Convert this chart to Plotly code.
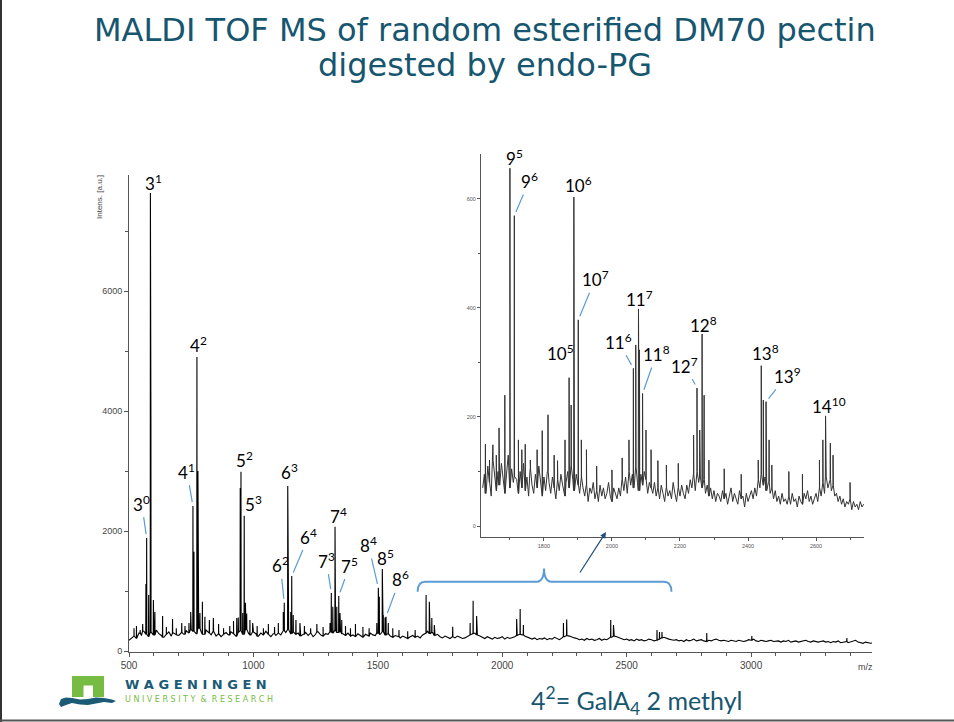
import plotly.graph_objects as go

W, H = 954, 722

# ---------------- data ----------------
main_base_start = 500
main_base_step = 10
main_baseline = [
    180, 220, 250, 210, 300, 260, 330, 280, 240, 310, 270, 350, 290, 260, 230, 280, 320, 250, 300, 270,
    260, 310, 280, 340, 300, 360, 330, 290, 380, 320, 280, 350, 300, 270, 330, 250, 290, 240, 280, 310,
    270, 320, 290, 250, 310, 340, 280, 360, 300, 270, 320, 290, 250, 300, 270, 330, 280, 240, 290, 260,
    300, 270, 340, 310, 360, 290, 320, 280, 300, 250, 280, 310, 260, 300, 240, 280, 320, 270, 250, 290,
    280, 320, 300, 350, 310, 330, 290, 260, 300, 250, 270, 240, 290, 260, 230, 280, 250, 300, 270, 260,
    300, 280, 320, 270, 290, 250, 230, 260, 240, 220, 250, 230, 210, 240, 260, 230, 250, 220, 270, 300,
    330, 290, 310, 260, 280, 240, 220, 250, 230, 210, 240, 220, 250, 230, 210, 220, 240, 270, 290, 300,
    270, 250, 230, 210, 240, 220, 200, 230, 210, 220, 240, 200, 230, 210, 220, 240, 260, 280, 270, 250,
    230, 210, 200, 220, 190, 210, 200, 220, 190, 210, 200, 230, 210, 190, 220, 240, 260, 250, 230, 220,
    210, 190, 200, 180, 210, 190, 200, 180, 190, 210, 180, 200, 190, 210, 230, 250, 240, 220, 200, 190,
    200, 180, 190, 170, 200, 180, 190, 170, 180, 200, 190, 170, 180, 200, 220, 230, 210, 200, 190, 180,
    190, 170, 180, 160, 190, 170, 180, 200, 170, 180, 190, 170, 160, 180, 170, 190, 200, 180, 170, 180,
    170, 160, 180, 170, 160, 180, 170, 160, 170, 190, 180, 200, 170, 160, 180, 170, 160, 170, 180, 160,
    160, 170, 150, 170, 160, 180, 150, 160, 170, 150, 160, 170, 180, 160, 150, 170, 160, 150, 160, 170,
    150, 160, 140, 160, 150, 170, 140, 150, 160, 140, 150, 160, 180, 150, 140, 130, 150, 140, 130, 140,
]

main_peak_mz = [571, 586, 757, 773, 950, 963, 1124, 1138, 1154, 1313, 1328, 1343, 1502, 1518, 1533]
main_peak_int = [1883, 7633, 2417, 4900, 2990, 2256, 806, 2750, 1250, 967, 2072, 917, 1056, 1367, 572]
main_peak_labels = ["3<sup>0</sup>", "3<sup>1</sup>", "4<sup>1</sup>", "4<sup>2</sup>", "5<sup>2</sup>",
                    "5<sup>3</sup>", "6<sup>2</sup>", "6<sup>3</sup>", "6<sup>4</sup>", "7<sup>3</sup>",
                    "7<sup>4</sup>", "7<sup>5</sup>", "8<sup>4</sup>", "8<sup>5</sup>", "8<sup>6</sup>"]

main_minor_mz = [520, 530, 545, 555, 568, 579, 588, 598, 604, 635, 650, 675, 690, 712, 725,
                 741, 748, 761, 777, 785, 795, 805, 823, 839, 860, 880, 905, 920,
                 933, 939, 947, 957, 968, 973, 986, 997, 1015, 1040, 1060, 1085,
                 1100, 1120, 1141, 1150, 1160, 1171, 1187, 1205, 1230, 1255, 1280,
                 1308, 1319, 1335, 1348, 1355, 1370, 1390, 1410, 1440, 1465,
                 1496, 1506, 1522, 1529, 1542, 1560, 1585, 1620, 1650,
                 1694, 1707, 1717, 1727, 1801, 1871, 1883, 1897,
                 2058, 2072, 2085, 2246, 2259, 2436, 2447,
                 2622, 2632, 2642, 2822, 3003, 3385]
main_minor_int = [380, 420, 350, 450, 1117, 933, 3917, 850, 650, 583, 400, 533, 380, 467, 420,
                  467, 650, 1655, 3000, 633, 822, 572, 517, 550, 450, 380, 420, 500,
                  550, 561, 2717, 633, 806, 628, 517, 467, 420, 380, 450, 400,
                  467, 650, 1983, 650, 600, 517, 467, 420, 380, 450, 400,
                  467, 739, 739, 633, 517, 420, 380, 450, 400, 380,
                  467, 906, 600, 560, 467, 380, 350, 330, 350,
                  933, 822, 550, 433, 406, 467, 839, 583,
                  533, 700, 433, 467, 528, 517, 433,
                  350, 320, 317, 300, 250, 216]

inset_base_start = 1620
inset_base_step = 5
inset_baseline = [
    70, 95, 60, 110, 80, 55, 120, 90, 65, 100, 75, 115, 85, 60, 95, 130, 70, 105, 80, 90,
    85, 60, 100, 70, 115, 65, 90, 55, 105, 75, 60, 95, 70, 110, 80, 55, 90, 65, 100, 80,
    60, 90, 70, 50, 85, 65, 95, 75, 55, 80, 100, 70, 110, 85, 65, 95, 75, 60, 90, 70,
    55, 75, 45, 70, 60, 80, 50, 65, 45, 75, 55, 70, 50, 60, 80, 55, 45, 70, 60, 50,
    70, 55, 85, 65, 90, 60, 100, 75, 95, 70, 110, 80, 65, 95, 75, 100, 85, 60, 80, 70,
    60, 80, 55, 70, 50, 75, 60, 45, 70, 55, 65, 50, 80, 60, 45, 70, 55, 75, 60, 50,
    75, 60, 85, 70, 95, 65, 100, 80, 90, 70, 85, 60, 75, 55, 70, 50, 65, 45, 60, 55,
    45, 65, 50, 60, 40, 55, 70, 45, 60, 50, 40, 65, 50, 55, 35, 60, 45, 55, 65, 50,
    70, 55, 85, 70, 95, 75, 90, 65, 80, 60, 70, 50, 65, 45, 55, 40, 60, 45, 50, 40,
    55, 40, 60, 45, 50, 35, 55, 45, 40, 60, 50, 65, 45, 55, 40, 50, 60, 45, 70, 55,
    80, 60, 90, 70, 85, 65, 75, 55, 60, 45, 55, 40, 50, 35, 45, 40, 50, 30, 45, 35,
    40, 30, 45, 35, 40,
]

inset_peak_mz = [1700, 1713, 1874, 1888, 1901, 2063, 2078, 2090, 2250, 2265, 2439, 2453, 2628]
inset_peak_int = [656, 569, 272, 603, 378, 289, 398, 243, 253, 352, 294, 228, 202]
inset_peak_labels = ["9<sup>5</sup>", "9<sup>6</sup>", "10<sup>5</sup>", "10<sup>6</sup>", "10<sup>7</sup>",
                     "11<sup>6</sup>", "11<sup>7</sup>", "11<sup>8</sup>", "12<sup>7</sup>", "12<sup>8</sup>",
                     "13<sup>8</sup>", "13<sup>9</sup>", "14<sup>10</sup>"]

inset_minor_mz = [1628, 1640, 1650, 1660, 1668, 1685, 1725, 1735, 1745, 1760, 1780, 1795,
                  1812, 1830, 1840, 1862, 1880, 1910, 1925, 1955, 2000, 2030, 2050, 2070,
                  2081, 2100, 2115, 2135, 2160, 2195, 2240, 2258, 2271, 2285, 2330, 2380,
                  2430, 2445, 2462, 2470, 2520, 2560, 2610, 2620, 2642, 2650, 2700]
inset_minor_int = [150, 121, 149, 130, 180, 240, 158, 140, 150, 121, 140, 175,
                   204, 130, 120, 158, 222, 158, 140, 110, 103, 125, 158, 332,
                   323, 176, 140, 120, 112, 115, 167, 176, 240, 121, 105, 95,
                   121, 231, 158, 112, 100, 95, 121, 158, 152, 130, 80]

main_x_ticks = [500, 1000, 1500, 2000, 2500, 3000]
main_y_ticks = [0, 2000, 4000, 6000]
inset_x_ticks = [1800, 2000, 2200, 2400, 2600]
inset_y_ticks = [0, 200, 400, 600]

# ---------------- styling / layout constants ----------------
TEAL = "#17566F"
BLUE = "#5B9BD5"
GREEN = "#76BC43"
LABEL_FONT = dict(family="Lato", size=17, color="black")

# label placement: ("above", xshift, yshift) or ("leader", ax, ay)
main_label_pos = [("leader", -5, -35), ("above", 3, 11), ("leader", -6, -35), ("above", 2, 13),
                  ("above", 4, 12), ("above", 9, 12), ("leader", -4, -38), ("above", 2, 15),
                  ("leader", 17, -40), ("leader", -5, -33), ("above", 3, 11), ("leader", 11, -31),
                  ("leader", -10, -43), ("above", 3, 12), ("leader", 14, -38)]
inset_label_pos = [("above", 5, 11), ("leader", 15, -35), ("above", -9, 25), ("above", 5, 13),
                   ("leader", 17, -41), ("leader", -15, -27), ("above", 1, 10), ("leader", 14, -40),
                   ("leader", -12, -23), ("above", 1, 10), ("above", 4, 13), ("leader", 21, -26),
                   ("above", 3, 10)]

MAIN_X_RANGE = [500, 3486]
MAIN_Y_RANGE = [-15, 7935]
INSET_X_RANGE = [1615, 2741]
INSET_Y_RANGE = [-20, 682]
BRACKET = [1660, 2168, 2680]   # m/z of left end, cusp, right end


def px(x):
    return x / W


def py(y):
    return 1 - y / H


def build_line(start, step, base, pk_mz, pk_int):
    pts = [(start + i * step, v) for i, v in enumerate(base)]
    for mz, h in zip(pk_mz, pk_int):
        idx = min(max(int(round((mz - start) / step)), 0), len(base) - 1)
        b = base[idx]
        pts += [(mz - 0.6, b), (mz, h), (mz + 0.6, b)]
    pts.sort()
    return [p[0] for p in pts], [p[1] for p in pts]


mx, my = build_line(main_base_start, main_base_step, main_baseline,
                    main_peak_mz + main_minor_mz, main_peak_int + main_minor_int)
ix, iy = build_line(inset_base_start, inset_base_step, inset_baseline,
                    inset_peak_mz + inset_minor_mz, inset_peak_int + inset_minor_int)

fig = go.Figure()
fig.add_trace(go.Scatter(x=mx, y=my, mode="lines", line=dict(color="black", width=1.1),
                         xaxis="x", yaxis="y", hoverinfo="skip"))
fig.add_trace(go.Scatter(x=ix, y=iy, mode="lines", line=dict(color="#333333", width=1),
                         xaxis="x2", yaxis="y2", hoverinfo="skip"))

annotations = []


def add_labels(mzs, ints, labels, pos, xref, yref):
    for mz, h, lab, p in zip(mzs, ints, labels, pos):
        if p[0] == "above":
            annotations.append(dict(x=mz, y=h, xref=xref, yref=yref, text=lab, showarrow=False,
                                    xanchor="center", yanchor="middle", xshift=p[1], yshift=p[2],
                                    font=LABEL_FONT))
        else:
            annotations.append(dict(x=mz, y=h, xref=xref, yref=yref, text=lab, showarrow=True,
                                    ax=p[1], ay=p[2], arrowhead=0, arrowwidth=1.2,
                                    arrowcolor=BLUE, standoff=4, startstandoff=1,
                                    font=LABEL_FONT))


add_labels(main_peak_mz, main_peak_int, main_peak_labels, main_label_pos, "x", "y")
add_labels(inset_peak_mz, inset_peak_int, inset_peak_labels, inset_label_pos, "x2", "y2")


def paper_text(x, y, text, font, xanchor="center", **kw):
    return dict(x=px(x), y=py(y), xref="paper", yref="paper", showarrow=False, text=text,
                xanchor=xanchor, yanchor="middle", font=font, **kw)


annotations += [
    paper_text(485, 30, "MALDI TOF MS of random esterified DM70 pectin",
               dict(family="DejaVu Sans", size=32, color=TEAL)),
    paper_text(485, 65, "digested by endo-PG", dict(family="DejaVu Sans", size=32, color=TEAL)),
    paper_text(637, 700, "4<sup>2</sup>= GalA<sub>4</sub> 2 methyl",
               dict(family="Lato", size=25, color=TEAL)),
    paper_text(100, 197, "Intens. [a.u.]", dict(family="Liberation Sans", size=8, color="#444444"),
               textangle=-90),
    paper_text(865, 667, "m/z", dict(family="Liberation Sans", size=9, color="#444444")),
    paper_text(123, 684.5, "W A G E N I N G E N",
               dict(family="DejaVu Sans", size=13, color="#1B5B76", weight="bold"), xanchor="left"),
    paper_text(123, 699, "U N I V E R S I T Y  &amp;  R E S E A R C H",
               dict(family="DejaVu Sans", size=8, color=GREEN), xanchor="left"),
    # arrow from bracket to inset
    dict(x=2417, y=1985, xref="x", yref="y", ax=-27, ay=42, showarrow=True,
         arrowhead=2, arrowsize=1, arrowwidth=1.2, arrowcolor="#1F4E79", text=""),
]

shapes = []
# bracket
l, c, r = BRACKET
yb, yl, yt = 990, 1155, 1378
shapes.append(dict(type="path", xref="x", yref="y", line=dict(color=BLUE, width=2),
                   path=(f"M {l},{yb} Q {l},{yl} {l+30},{yl} L {c-33},{yl} Q {c},{yl} {c},{yt} "
                         f"Q {c},{yl} {c+33},{yl} L {r-30},{yl} Q {r},{yl} {r},{yb}")))
# logo: green arch
shapes.append(dict(type="rect", xref="paper", yref="paper", x0=px(72), x1=px(104), y0=py(697), y1=py(676),
                   fillcolor=GREEN, line=dict(width=0)))
shapes.append(dict(type="rect", xref="paper", yref="paper", x0=px(83.5), x1=px(93), y0=py(697), y1=py(685.5),
                   fillcolor="white", line=dict(width=0)))
wave = [(61, 699), (66, 697.5), (72, 698), (80, 699.5), (88, 699), (96, 697.5), (104, 698), (112, 699.5),
        (116, 701), (112, 703), (104, 702), (96, 703.5), (88, 705), (80, 704.5), (72, 703), (66, 705),
        (61, 707), (59, 704)]
shapes.append(dict(type="path", xref="paper", yref="paper", fillcolor="#1B5B76", line=dict(width=0),
                   path="M " + " L ".join(f"{px(a):.5f},{py(b):.5f}" for a, b in wave) + " Z"))
# slide frame (left & bottom)
shapes.append(dict(type="line", xref="paper", yref="paper", x0=px(1), x1=px(1), y0=0, y1=1,
                   line=dict(color="#333333", width=2)))
shapes.append(dict(type="line", xref="paper", yref="paper", x0=0, x1=1, y0=py(720.5), y1=py(720.5),
                   line=dict(color="#555555", width=2)))

axis_common = dict(showgrid=False, zeroline=False, showline=True, linecolor="#555555", linewidth=1,
                   ticks="outside", tickcolor="#555555", tickmode="array", automargin=False)

fig.update_layout(
    width=W, height=H, autosize=False, margin=dict(l=0, r=0, t=0, b=0, pad=0, autoexpand=False),
    paper_bgcolor="white", plot_bgcolor="rgba(0,0,0,0)", showlegend=False,
    xaxis=dict(**axis_common, domain=[px(129), px(872)], range=MAIN_X_RANGE, anchor="y",
               tickvals=main_x_ticks, ticklen=4,
               tickfont=dict(family="Liberation Sans", size=10, color="#444444"),
               minor=dict(dtick=100, tick0=0, ticks="outside", ticklen=3, tickcolor="#555555")),
    yaxis=dict(**axis_common, domain=[py(652), py(175)], range=MAIN_Y_RANGE, anchor="x",
               tickvals=main_y_ticks, ticklen=4,
               tickfont=dict(family="Liberation Sans", size=9, color="#444444"),
               minor=dict(dtick=1000, tick0=0, ticks="outside", ticklen=3, tickcolor="#555555")),
    xaxis2=dict(**axis_common, domain=[px(481), px(864)], range=INSET_X_RANGE, anchor="y2",
                tickvals=inset_x_ticks, ticklen=3,
                tickfont=dict(family="Liberation Sans", size=5.5, color="#555555"),
                minor=dict(dtick=100, tick0=0, ticks="outside", ticklen=2, tickcolor="#555555")),
    yaxis2=dict(**axis_common, domain=[py(537), py(154)], range=INSET_Y_RANGE, anchor="x2",
                tickvals=inset_y_ticks, ticklen=3,
                tickfont=dict(family="Liberation Sans", size=5.5, color="#555555"),
                minor=dict(dtick=100, tick0=0, ticks="outside", ticklen=2, tickcolor="#555555")),
    annotations=annotations,
    shapes=shapes,
)

POST = ("document.documentElement.style.margin='0';document.documentElement.style.padding='0';"
        "document.body.style.margin='0';document.body.style.padding='0';"
        "document.body.style.overflow='hidden';document.documentElement.style.overflow='hidden';"
        "var gd=document.getElementById('{plot_id}');"
        "gd.style.position='fixed';gd.style.left='0px';gd.style.top='0px';")

fig.write_html("out.html", config={"responsive": False, "displayModeBar": False}, post_script=POST)
